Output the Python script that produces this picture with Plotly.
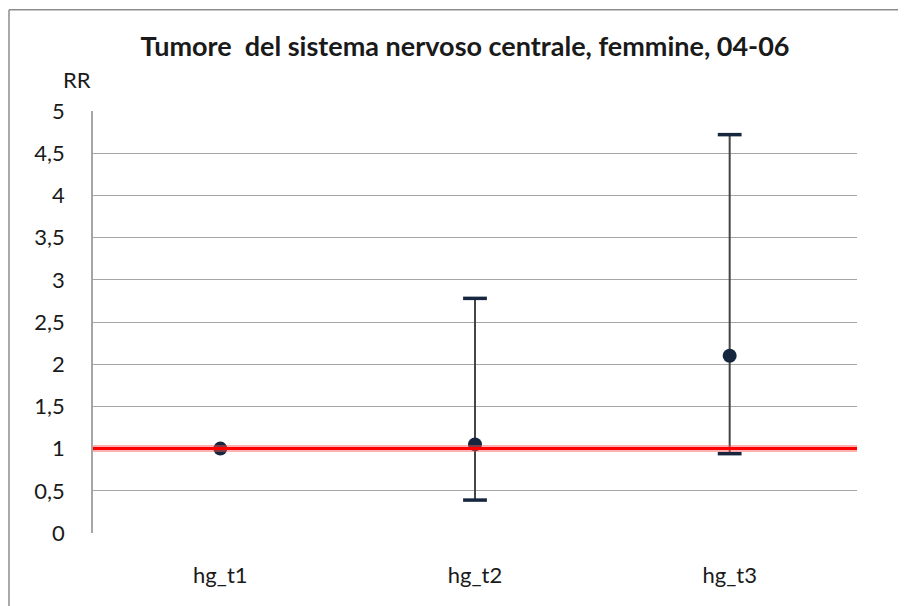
import plotly.graph_objects as go

categories = ["hg_t1", "hg_t2", "hg_t3"]
rr = [1.0, 1.05, 2.10]
lower = [1.0, 0.39, 0.94]
upper = [1.0, 2.78, 4.72]
y_ticks = [0, 0.5, 1, 1.5, 2, 2.5, 3, 3.5, 4, 4.5, 5]
ref_value = 1.0

FONT = "Lato, Open Sans, sans-serif"
NAVY = "#17263F"

err_plus = [u - v for u, v in zip(upper, rr)]
err_minus = [v - l for v, l in zip(rr, lower)]

fig = go.Figure()

# whiskers
fig.add_trace(go.Scatter(
    x=categories, y=rr, mode="markers",
    marker=dict(size=14, color=NAVY),
    error_y=dict(type="data", symmetric=False, array=err_plus, arrayminus=err_minus,
                 color="#454545", thickness=2, width=0),
    showlegend=False, hoverinfo="skip",
))

# caps
cap_x = [c for c, l, u in zip(categories, lower, upper) if u != l]
cap_lo = [l for l, u in zip(lower, upper) if u != l]
cap_hi = [u for l, u in zip(lower, upper) if u != l]
fig.add_trace(go.Scatter(
    x=cap_x + cap_x, y=cap_hi + cap_lo, mode="markers",
    marker=dict(symbol="line-ew", size=17, line=dict(color=NAVY, width=3.5)),
    showlegend=False, hoverinfo="skip",
))

# reference line glow + line
fig.add_shape(type="line", xref="paper", x0=0, x1=1, y0=ref_value, y1=ref_value,
              line=dict(color="rgba(255,80,80,0.45)", width=7), layer="above")
fig.add_shape(type="line", xref="paper", x0=0, x1=1, y0=ref_value, y1=ref_value,
              line=dict(color="#FF0000", width=3), layer="above")

# outer chart-area border (left and top edges visible)
bx0 = -84 / 764
by1 = 1.24
fig.add_shape(type="line", xref="paper", yref="paper", x0=bx0, x1=bx0, y0=-0.3, y1=by1,
              line=dict(color="#8C8C8C", width=1.5), layer="below")
fig.add_shape(type="line", xref="paper", yref="paper", x0=bx0, x1=1.2, y0=by1, y1=by1,
              line=dict(color="#8C8C8C", width=1.5), layer="below")

fig.update_layout(
    width=898, height=598,
    margin=dict(l=85, r=49, t=103, b=73),
    paper_bgcolor="white", plot_bgcolor="white",
    separators=",.",
    font=dict(family=FONT, size=22, color="#1a1a1a"),
    title=dict(text="<b>Tumore  del sistema nervoso centrale, femmine, 04-06</b>",
               x=(465 - 93) / 764, xanchor="center", xref="paper", y=1 - 39 / 598,
               yanchor="middle", font=dict(family=FONT, size=27, color="#1a1a1a")),
    xaxis=dict(type="category", range=[-0.5, 2.5], showgrid=False, showline=False,
               ticks="", tickfont=dict(size=22), ticklabelstandoff=27, zeroline=False),
    yaxis=dict(range=[0, 5], tickvals=y_ticks, showgrid=True, gridcolor="#A6A6A6",
               gridwidth=1, showline=True, linecolor="#A6A6A6", linewidth=1.5,
               ticks="", tickfont=dict(size=22), ticklabelstandoff=22, zeroline=False),
    annotations=[dict(text="RR", xref="paper", yref="paper", x=(77 - 93) / 764,
                      y=(533 - 79) / 422, xanchor="center", yanchor="middle",
                      showarrow=False, font=dict(family=FONT, size=22, color="#1a1a1a"))],
)

fig.write_html("out.html")
